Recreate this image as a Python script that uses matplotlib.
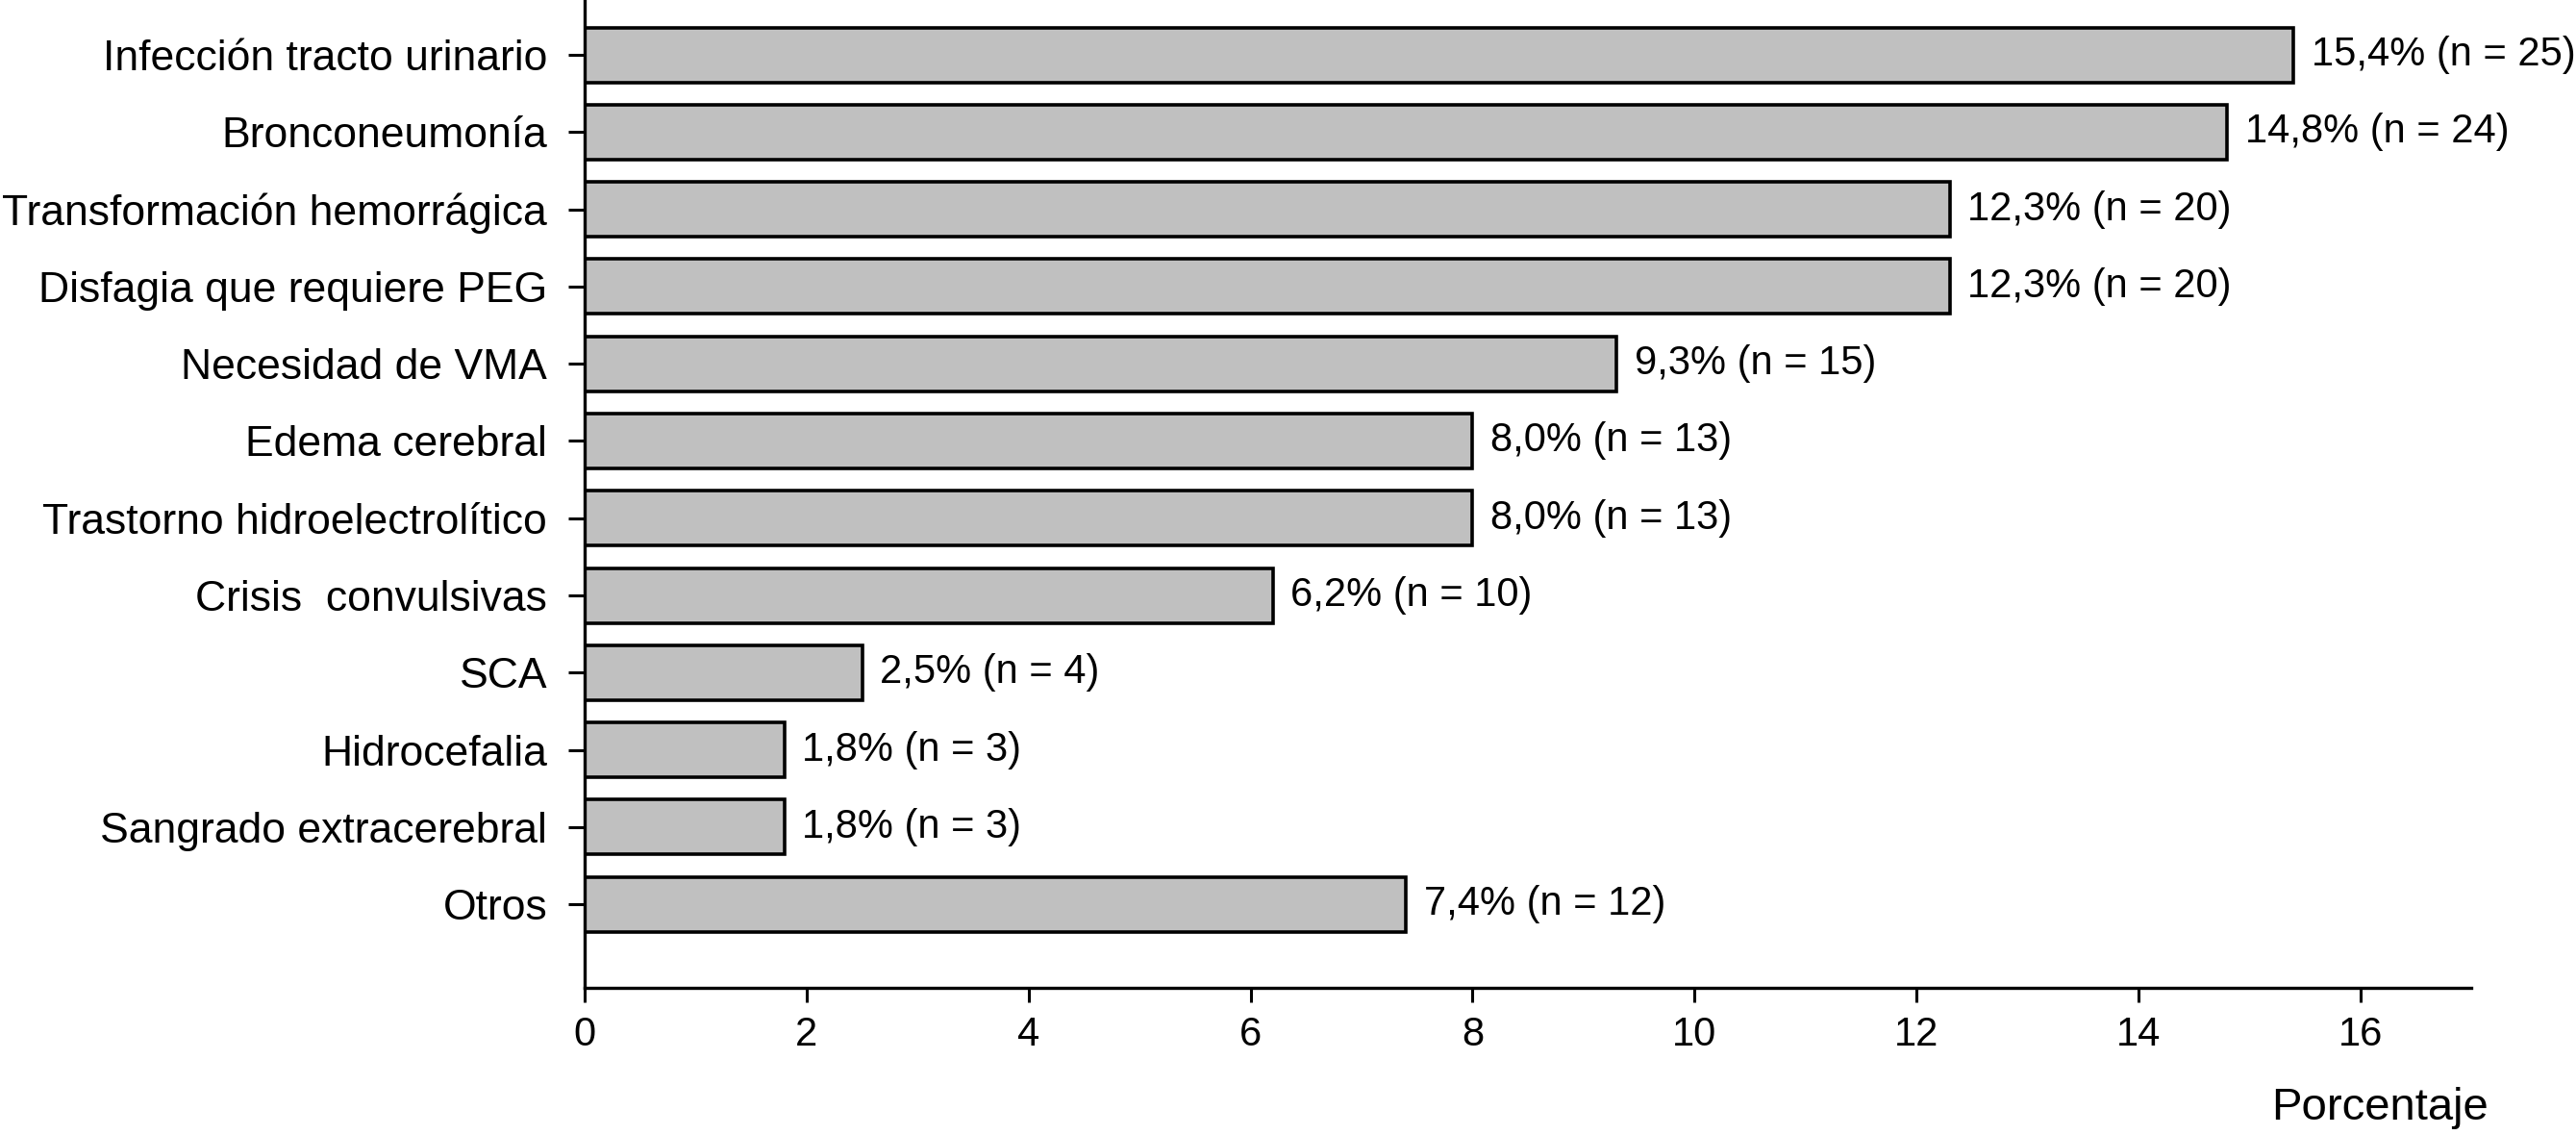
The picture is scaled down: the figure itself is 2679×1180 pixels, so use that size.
import matplotlib
matplotlib.use('Agg')
import matplotlib.pyplot as plt
import numpy as np

# Data
categories = [
    'Infección tracto urinario',
    'Bronconeumonía',
    'Transformación hemorrágica',
    'Disfagia que requiere PEG',
    'Necesidad de VMA',
    'Edema cerebral',
    'Trastorno hidroelectrolítico',
    'Crisis  convulsivas',
    'SCA',
    'Hidrocefalia',
    'Sangrado extracerebral',
    'Otros',
]
percent = [15.4, 14.8, 12.3, 12.3, 9.3, 8.0, 8.0, 6.2, 2.5, 1.8, 1.8, 7.4]
counts = [25, 24, 20, 20, 15, 13, 13, 10, 4, 3, 3, 12]
xticks = [0, 2, 4, 6, 8, 10, 12, 14, 16]

plt.rcParams['font.family'] = ['Liberation Sans', 'DejaVu Sans']

dpi = 100
fig = plt.figure(figsize=(2679 / dpi, 1180 / dpi), dpi=dpi)
ax = fig.add_axes([0.2270, 0.1297, 0.9593 - 0.2270, 1.0 - 0.1297])

y = np.arange(len(categories))
ax.barh(y, percent, height=0.71, color='#c0c0c0', edgecolor='black', linewidth=2.6)

for yi, p, n in zip(y, percent, counts):
    lbl = f'{p:.1f}'.replace('.', ',') + f'% (n = {n})'
    ax.text(p + 0.16, yi, lbl, va='center', ha='left', fontsize=30)

ax.set_xlim(0, 17)
ax.set_ylim(12.08, -0.71)
ax.set_yticks(y)
ax.set_yticklabels(categories)
ax.set_xticks(xticks)
ax.set_xticklabels([str(t) for t in xticks])

ax.tick_params(axis='y', length=12, width=2.2, pad=16, labelsize=32)
ax.tick_params(axis='x', length=11, width=2.2, pad=10, labelsize=30)

for s in ['top', 'right']:
    ax.spines[s].set_visible(False)
for s in ['left', 'bottom']:
    ax.spines[s].set_linewidth(2.4)

ax.set_xlabel('Porcentaje', fontsize=34, va='center')
ax.xaxis.set_label_coords(0.9516, -0.1217)

fig.savefig('out.png', dpi=dpi, facecolor='white')
